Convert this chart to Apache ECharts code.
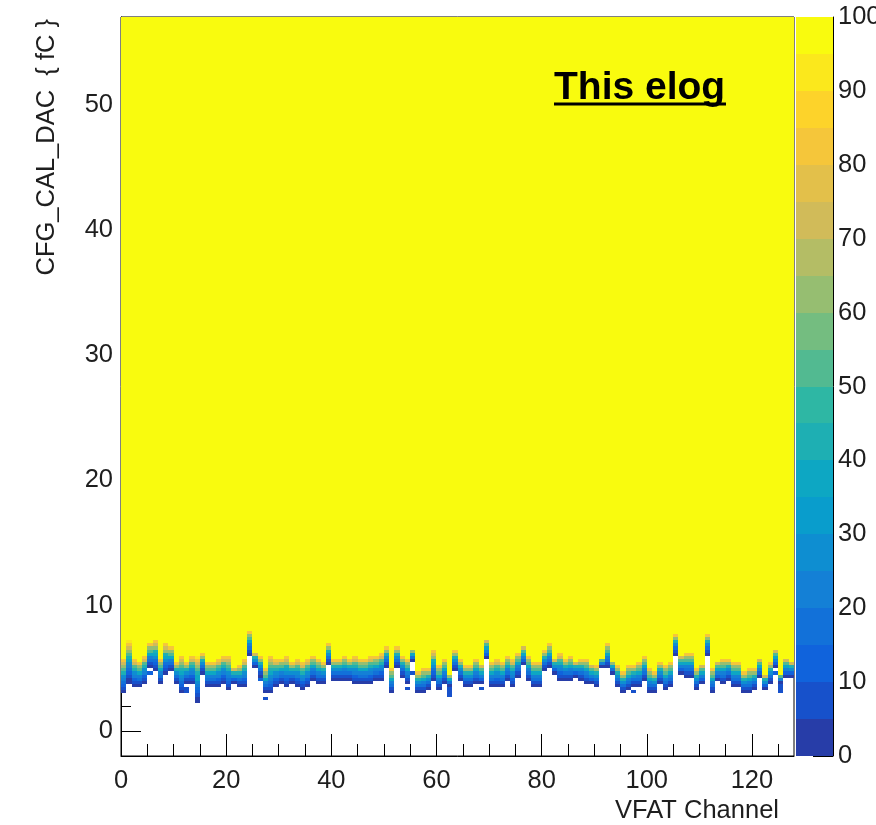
<!DOCTYPE html>
<html>
<head>
<meta charset="utf-8">
<title>VFAT S-curve</title>
<script src="https://cdn.jsdelivr.net/npm/echarts@6/dist/echarts.min.js"></script>
<style>
  html, body { margin: 0; padding: 0; background: #fff; }
  #chart { width: 876px; height: 825px; }
</style>
</head>
<body>
<div id="chart"></div>
<script>
// ---- Histogram data: VFAT channel vs injected charge, occupancy in % ----
const N_CHANNELS = 128;
const Y_MIN = -2;
const Y_MAX = 57;
const Y_BIN = 0.25;              // fC per charge bin

// Lowest charge (fC) with any hits, per channel 0..127
const TURN_ON_LOW = [
  3.04, 3.71, 3.44, 3.44, 3.71, 5.03, 4.77, 3.71, 4.50, 4.64,
  3.84, 2.91, 3.84, 3.71, 2.24, 4.50, 3.44, 3.44, 3.44, 3.84,
  3.31, 3.84, 3.57, 3.44, 5.97, 5.03, 4.24, 2.91, 2.91, 3.44,
  3.84, 3.44, 3.71, 3.44, 3.17, 3.57, 3.97, 3.84, 3.71, 5.30,
  4.10, 3.97, 3.97, 3.97, 3.84, 3.84, 3.84, 3.84, 3.97, 4.10,
  4.90, 3.04, 5.03, 4.37, 3.84, 5.43, 3.04, 3.04, 3.17, 4.10,
  3.31, 3.84, 3.57, 4.64, 4.10, 3.44, 3.57, 3.84, 3.71, 5.83,
  3.57, 3.57, 3.57, 3.97, 3.57, 4.37, 5.30, 3.97, 3.57, 3.44,
  4.77, 5.03, 4.50, 3.97, 4.10, 3.97, 4.24, 4.10, 3.84, 3.71,
  3.44, 5.03, 5.03, 4.50, 3.57, 3.04, 3.31, 3.57, 3.57, 4.10,
  2.91, 3.04, 3.71, 3.31, 3.44, 6.10, 4.50, 4.24, 4.37, 3.31,
  3.71, 5.97, 2.91, 3.97, 3.84, 3.97, 3.57, 3.44, 2.91, 2.91,
  3.17, 4.37, 3.17, 3.71, 5.03, 3.84, 4.24, 4.37
];

// Charge (fC) from which every pulse is seen (100 %), per channel 0..127
const TURN_ON_HIGH = [
  5.83, 7.29, 5.83, 5.57, 5.97, 6.90, 7.16, 5.83, 6.90, 6.76,
  5.57, 5.97, 5.57, 5.97, 5.97, 6.23, 5.57, 5.43, 5.70, 6.10,
  5.97, 5.03, 5.17, 5.70, 7.96, 6.36, 5.97, 5.03, 5.97, 5.83,
  5.83, 5.97, 5.57, 5.83, 5.43, 5.83, 5.97, 5.70, 5.43, 6.90,
  5.83, 5.83, 5.97, 5.83, 5.97, 5.70, 5.83, 6.10, 5.97, 6.23,
  6.76, 5.03, 6.76, 5.97, 5.83, 6.50, 4.64, 4.90, 4.90, 6.50,
  5.30, 5.83, 4.50, 6.50, 5.70, 5.30, 5.17, 5.83, 5.30, 7.16,
  5.43, 5.83, 5.57, 5.97, 5.83, 6.36, 6.63, 6.10, 5.57, 5.43,
  6.50, 6.90, 5.70, 6.23, 5.70, 5.97, 5.43, 5.83, 5.70, 5.17,
  5.17, 5.83, 7.03, 5.43, 5.30, 4.77, 5.30, 5.30, 5.57, 5.97,
  5.03, 4.77, 5.57, 5.17, 5.57, 7.69, 5.97, 6.36, 6.23, 5.03,
  5.17, 7.69, 4.90, 5.57, 5.83, 5.70, 5.43, 5.57, 4.77, 5.03,
  4.90, 5.83, 4.50, 5.43, 6.50, 4.50, 5.70, 5.57
];

// Occupancy (%) crossed along the turn-on, from its lowest bin upwards
const EFF_STEPS = [4, 8, 12, 17, 22, 28, 35, 43, 52, 62, 73, 83, 91];

// Isolated low-charge hits: [channel, charge fC, occupancy %]
const STRAY_CELLS = [
  [5, 4.50, 10], [12, 3.25, 8], [12, 3.00, 8], [26, 4.00, 10],
  [27, 2.40, 6], [54, 3.25, 8], [55, 4.50, 8], [62, 3.25, 8],
  [62, 3.00, 8], [62, 2.75, 6], [68, 3.25, 8], [97, 3.00, 8],
  [124, 4.50, 10], [125, 3.50, 8], [125, 3.25, 8], [125, 2.90, 8]
];

// Axis ticks and colour-scale contours
const X_MAJOR = [0, 20, 40, 60, 80, 100, 120];
const X_MINOR = [5, 10, 15, 25, 30, 35, 45, 50, 55, 65, 70, 75, 85, 90, 95, 105, 110, 115, 125];
const Y_MAJOR = [0, 10, 20, 30, 40, 50];
const Y_MINOR = [0, 2, 4, 6, 8, 10, 12, 14, 16, 18, 20, 22, 24, 26, 28, 30, 32, 34, 36, 38, 40, 42, 44, 46, 48, 50, 52, 54, 56];
const Z_LEVELS = [0, 5, 10, 15, 20, 25, 30, 35, 40, 45, 50, 55, 60, 65, 70, 75, 80, 85, 90, 95, 100];
const Z_TICKS = [0, 10, 20, 30, 40, 50, 60, 70, 80, 90, 100];

// ---- ROOT "bird" palette ----
const BIRD_STOPS = [0.0, 0.125, 0.25, 0.375, 0.5, 0.625, 0.75, 0.875, 1.0];
const BIRD_R = [0.2082, 0.0592, 0.0780, 0.0232, 0.1802, 0.5301, 0.8186, 0.9956, 0.9764];
const BIRD_G = [0.1664, 0.3599, 0.5041, 0.6419, 0.7178, 0.7492, 0.7328, 0.7862, 0.9832];
const BIRD_B = [0.5293, 0.8684, 0.8385, 0.7914, 0.6425, 0.4662, 0.3499, 0.1968, 0.0539];

function birdColor(f) {
  let i = 0;
  while (i < BIRD_STOPS.length - 2 && f > BIRD_STOPS[i + 1]) i++;
  const t = (f - BIRD_STOPS[i]) / (BIRD_STOPS[i + 1] - BIRD_STOPS[i]);
  const mix = (a) => Math.round(255 * (a[i] + (a[i + 1] - a[i]) * t));
  return 'rgb(' + mix(BIRD_R) + ',' + mix(BIRD_G) + ',' + mix(BIRD_B) + ')';
}

const N_CONTOURS = Z_LEVELS.length - 1;
const CONTOUR_COLORS = [];
for (let i = 0; i < N_CONTOURS; i++) {
  const idx = Math.floor((i + 0.99) * 255 / N_CONTOURS);
  CONTOUR_COLORS.push(birdColor(Math.min(idx, 254) / 254));
}
function levelColor(v) {
  let i = 0;
  while (i < N_CONTOURS - 1 && v >= Z_LEVELS[i + 1]) i++;
  return CONTOUR_COLORS[i];
}

// ---- Build histogram cells: [channel, yLow, yHigh, occupancy] ----
const cells = [];
for (let c = 0; c < N_CHANNELS; c++) {
  const lo = Math.round(TURN_ON_LOW[c] / Y_BIN) * Y_BIN;
  const hi = Math.round(TURN_ON_HIGH[c] / Y_BIN) * Y_BIN;
  const n = Math.max(1, Math.round((hi - lo) / Y_BIN));
  for (let k = 0; k < n; k++) {
    const v = EFF_STEPS[Math.floor(k * EFF_STEPS.length / n)];
    cells.push([c, lo + k * Y_BIN, lo + (k + 1) * Y_BIN, v]);
  }
  cells.push([c, hi, Y_MAX, 100]);
}
STRAY_CELLS.forEach(([c, y, v]) => {
  const y0 = Math.round(y / Y_BIN) * Y_BIN;
  cells.push([c, y0, y0 + Y_BIN, v]);
});

const bands = [];
for (let i = 0; i < N_CONTOURS; i++) bands.push([Z_LEVELS[i], Z_LEVELS[i + 1], i]);

// Pixel-snapped rectangle between two data corners, so neighbouring bins do not leave seams
function binRect(api, xA, yA, xB, yB, col) {
  const p0 = api.coord([xA, yA]);
  const p1 = api.coord([xB, yB]);
  const x0 = Math.round(p0[0]), x1 = Math.round(p1[0]);
  const yb = Math.round(p0[1]), yt = Math.round(p1[1]);
  return {
    type: 'rect',
    shape: { x: x0, y: yt, width: x1 - x0, height: yb - yt },
    style: { fill: col }
  };
}

// ---- Chart ----
const FONT = "'Liberation Sans', Arial, Helvetica, sans-serif";
const TXT = '#1e1e1e';
const FS = 25.5;
const chart = echarts.init(document.getElementById('chart'), null, { renderer: 'canvas' });

const frame = { left: 121, top: 17, width: 673, height: 739 };
const palette = { left: 796, top: 17, width: 37, height: 739 };

chart.setOption({
  animation: false,
  backgroundColor: '#fff',
  grid: [
    Object.assign({ show: true, borderColor: '#000', borderWidth: 1, backgroundColor: 'transparent', containLabel: false, outerBoundsMode: 'none' }, frame),
    Object.assign({ show: false, containLabel: false, outerBoundsMode: 'none' }, palette)
  ],
  xAxis: [
    {
      type: 'value', gridIndex: 0, position: 'bottom', min: 0, max: N_CHANNELS,
      axisLine: { show: true, onZero: false, lineStyle: { color: '#000', width: 1 } },
      axisTick: { show: true, inside: true, length: 22, customValues: X_MAJOR, lineStyle: { color: '#000', width: 1 } },
      axisLabel: { show: true, customValues: X_MAJOR, margin: 12, fontSize: FS, color: TXT, fontFamily: FONT },
      splitLine: { show: false }
    },
    {
      type: 'value', gridIndex: 0, position: 'bottom', min: 0, max: N_CHANNELS,
      axisLine: { show: false, onZero: false },
      axisTick: { show: true, inside: true, length: 12, customValues: X_MINOR, lineStyle: { color: '#000', width: 1 } },
      axisLabel: { show: false },
      splitLine: { show: false }
    },
    {
      type: 'value', gridIndex: 1, min: 0, max: 1, show: false
    }
  ],
  yAxis: [
    {
      type: 'value', gridIndex: 0, position: 'left', min: Y_MIN, max: Y_MAX,
      axisLine: { show: true, onZero: false, lineStyle: { color: '#000', width: 1 } },
      axisTick: { show: true, inside: true, length: 20, customValues: Y_MAJOR, lineStyle: { color: '#000', width: 1 } },
      axisLabel: { show: true, customValues: Y_MAJOR, margin: 8, fontSize: FS, color: TXT, fontFamily: FONT },
      splitLine: { show: false }
    },
    {
      type: 'value', gridIndex: 0, position: 'left', min: Y_MIN, max: Y_MAX,
      axisLine: { show: false, onZero: false },
      axisTick: { show: true, inside: true, length: 10, customValues: Y_MINOR, lineStyle: { color: '#000', width: 1 } },
      axisLabel: { show: false },
      splitLine: { show: false }
    },
    {
      type: 'value', gridIndex: 1, position: 'right', min: 0, max: 100,
      axisLine: { show: true, onZero: false, lineStyle: { color: '#000', width: 1 } },
      axisTick: { show: true, inside: true, length: 20, customValues: Z_TICKS, lineStyle: { color: '#000', width: 1 } },
      axisLabel: { show: true, customValues: Z_TICKS, margin: 5, fontSize: FS, color: TXT, fontFamily: FONT },
      splitLine: { show: false }
    }
  ],
  series: [
    {
      type: 'custom',
      name: 'occupancy',
      xAxisIndex: 0,
      yAxisIndex: 0,
      clip: true,
      z: 1,
      data: cells,
      encode: { x: 0, y: [1, 2] },
      renderItem: function (params, api) {
        const c = api.value(0);
        return binRect(api, c, api.value(1), c + 1, api.value(2), levelColor(api.value(3)));
      }
    },
    {
      type: 'custom',
      name: 'palette',
      xAxisIndex: 2,
      yAxisIndex: 2,
      z: 1,
      data: bands,
      encode: { y: [0, 1] },
      renderItem: function (params, api) {
        return binRect(api, 0, api.value(0), 1, api.value(1), CONTOUR_COLORS[api.value(2)]);
      }
    }
  ],
  graphic: [
    {
      type: 'text', x: 47, y: 19, rotation: Math.PI / 2,
      style: { text: 'CFG_CAL_DAC  { fC }', font: FS + 'px ' + FONT, fill: TXT, align: 'right', verticalAlign: 'middle' }
    },
    {
      type: 'text', x: 779, y: 811,
      style: { text: 'VFAT Channel', font: FS + 'px ' + FONT, fill: TXT, align: 'right', verticalAlign: 'middle' }
    },
    {
      type: 'text', x: 554, y: 88, z: 10,
      style: { text: 'This elog', font: 'bold 39px ' + FONT, fill: '#000', align: 'left', verticalAlign: 'middle' }
    },
    {
      type: 'line', z: 10,
      shape: { x1: 554, y1: 104, x2: 726, y2: 104 },
      style: { stroke: '#000', lineWidth: 3 }
    }
  ]
});
</script>
</body>
</html>
